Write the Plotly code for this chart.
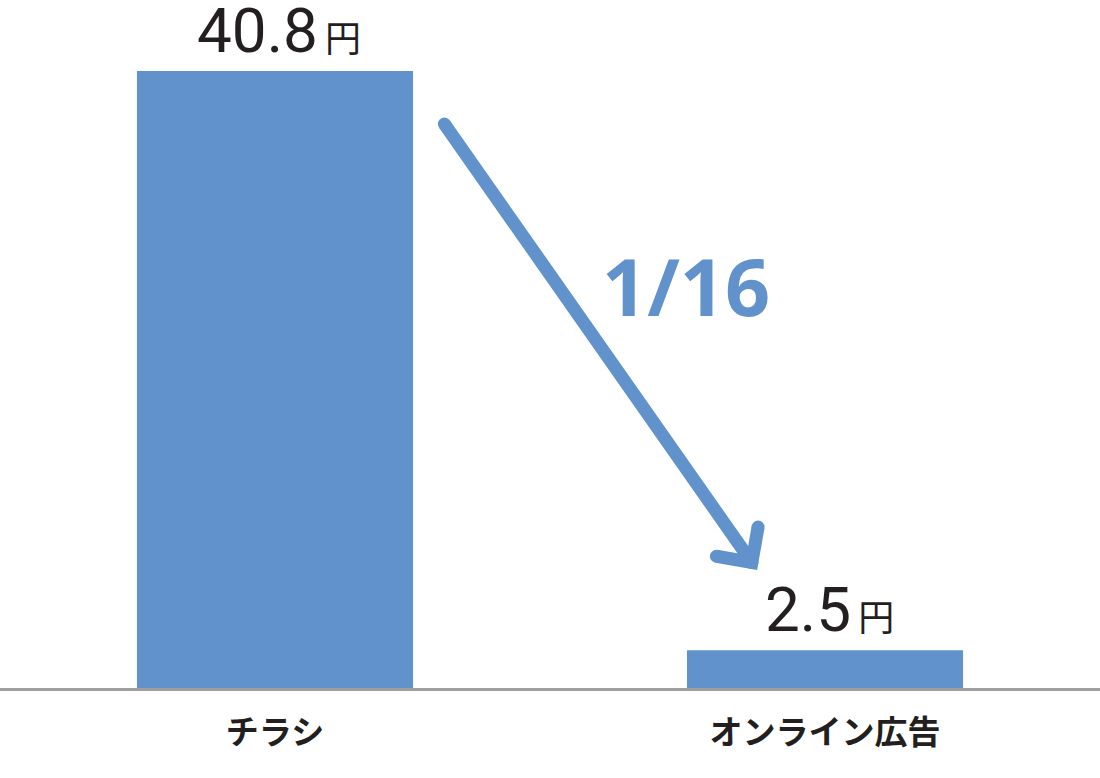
import numpy as np
import plotly.graph_objects as go

categories = ["チラシ", "オンライン広告"]
values = [40.8, 2.5]
value_labels = ["40.8", "2.5"]
unit = "円"
ratio_label = "1/16"

BLUE = "#6192CC"
INK = "#231F20"
W, H = 1100, 778
M_B = 90
Y_MAX = 45.5
X_RANGE = (-0.5, 1.5)

x_pos = list(range(len(categories)))

fig = go.Figure()
fig.add_trace(go.Bar(x=x_pos, y=values, width=0.502, marker=dict(color=BLUE, line=dict(width=0)),
                     hoverinfo="skip"))

# pixel scale helpers (for arrow head geometry)
plot_h = H - M_B
px_per_x = W / (X_RANGE[1] - X_RANGE[0])
px_per_y = plot_h / Y_MAX

# arrow from near top of bar 1 down to above bar 2 label
start = np.array([0.308, 37.3])
tip = np.array([0.867, 8.3])
def to_px(p):
    return np.array([p[0] * px_per_x, -p[1] * px_per_y])
def to_data(q):
    return np.array([q[0] / px_per_x, -q[1] / px_per_y])
s_px, t_px = to_px(start), to_px(tip)
back = (s_px - t_px) / np.linalg.norm(s_px - t_px)
arm_len = 36
arms = []
for ang in (np.pi / 4, -np.pi / 4):
    c, s = np.cos(ang), np.sin(ang)
    r = np.array([back[0] * c - back[1] * s, back[0] * s + back[1] * c])
    arms.append(to_data(t_px + r * arm_len))

LW = 13
fig.add_trace(go.Scatter(x=[start[0], tip[0]], y=[start[1], tip[1]], mode="lines+markers",
                         line=dict(color=BLUE, width=LW), marker=dict(color=BLUE, size=LW),
                         hoverinfo="skip"))
fig.add_trace(go.Scatter(x=[arms[0][0], tip[0], arms[1][0]], y=[arms[0][1], tip[1], arms[1][1]],
                         mode="lines+markers", line=dict(color=BLUE, width=LW),
                         marker=dict(color=BLUE, size=LW), hoverinfo="skip"))

annotations = []
for xi, v, lab in zip(x_pos, values, value_labels):
    annotations.append(dict(
        x=xi + 0.008, y=v, xref="x", yref="y", yanchor="bottom", yshift=2, showarrow=False,
        height=60, valign="bottom",
        text=f"{lab}<span style='font-family:\"Noto Sans CJK JP\";font-size:36px'>&#8201;{unit}</span>",
        font=dict(family="Roboto", size=62, color=INK)))
annotations.append(dict(x=0.748, y=26.5, xref="x", yref="y", yshift=2, showarrow=False, text=ratio_label,
                        font=dict(family="Open Sans", size=79, color=BLUE, weight="bold")))

fig.update_layout(
    width=W, height=H, margin=dict(l=0, r=0, t=0, b=M_B),
    paper_bgcolor="white", plot_bgcolor="white", showlegend=False, bargap=0.5,
    annotations=annotations,
    xaxis=dict(range=list(X_RANGE), tickvals=x_pos, ticktext=categories, showgrid=False,
               zeroline=False, showline=True, linecolor="#A0A0A0", linewidth=3,
               ticks="", ticklabelstandoff=13,
               tickfont=dict(family="Noto Sans CJK JP", size=33, color=INK, weight="bold")),
    yaxis=dict(range=[0, Y_MAX], visible=False, showgrid=False, zeroline=False),
)

fig.write_html("out.html", config={"displayModeBar": False, "staticPlot": True},
               post_script="document.body.style.margin='0px';document.body.style.overflow='hidden';")
